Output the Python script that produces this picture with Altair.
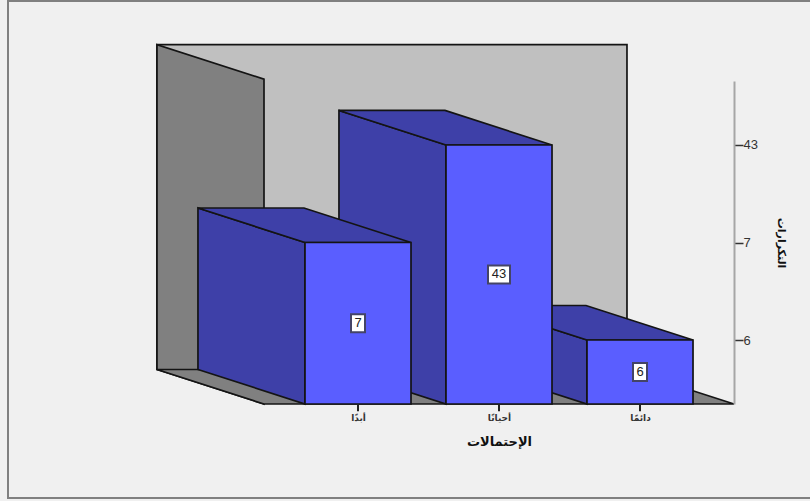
import altair as alt
import pandas as pd

# Survey answers and their frequencies
categories = ["أبدًا", "أحيانًا", "دائمًا"]
counts = [7, 43, 6]
axis_counts = sorted(counts)  # the count axis spaces its values evenly, by rank
x_title = "الإحتمالات"
y_title = "التكرارات"

# Oblique projection, in units of one category step and one count rank
X_DOMAIN = [1 / 3, 11 / 3]
Y_DOMAIN = [0.344, 3.656]
HALF_BAR = 0.376
DEPTH_X = 0.759
DEPTH_Y = 0.354
WALL_TOP = 3.656 + 0.373
TICK_DROP = 0.075

FRONT = "#5a5eff"
SHADE = "#3e40a8"
WALL = "#808080"
BACK = "#c0c0c0"
EDGE = "#141414"
EDGE_WIDTH = 1.7
PAGE = "#f0f0f0"
FONT = "Liberation Sans"
ARABIC = "DejaVu Sans"

x_scale = alt.Scale(domain=X_DOMAIN, nice=False, zero=False)
y_scale = alt.Scale(domain=Y_DOMAIN, nice=False, zero=False)

x_axis = alt.Axis(
    values=[i + 1 for i in range(len(categories))],
    labelExpr="[" + ",".join(f"'{c}'" for c in categories) + "][datum.value - 1]",
    title=x_title,
    domain=False,
    grid=False,
    zindex=1,
    ticks=False,
    labelFont=ARABIC,
    labelFontSize=9,
    labelFontWeight="bold",
    labelColor="#333333",
    labelPadding=9,
    titleFont=ARABIC,
    titleFontSize=13,
    titleFontWeight="bold",
    titleColor="#111111",
    titleY=31,
)
y_axis = alt.Axis(
    orient="right",
    values=[i + 1 for i in range(len(axis_counts))],
    labelExpr="[" + ",".join(f"'{c}'" for c in axis_counts) + "][datum.value - 1]",
    title=y_title,
    domain=True,
    domainColor="#a6a6a6",
    domainWidth=2,
    grid=False,
    zindex=1,
    tickColor="#333333",
    tickWidth=1.5,
    tickSize=9,
    labelFont=FONT,
    labelFontSize=13,
    labelColor="#333333",
    labelPadding=0,
    titleFont=ARABIC,
    titleFontSize=11,
    titleFontWeight="bold",
    titleColor="#111111",
    titleAngle=90,
    titleX=43,
    titleBaseline="alphabetic",
)


def X(field="x"):
    return alt.X(f"{field}:Q", scale=x_scale, axis=x_axis)


def Y(field="y"):
    return alt.Y(f"{field}:Q", scale=y_scale, axis=y_axis)


def vertical_face(x0, x1, low0, high0, low1, high1, color):
    df = pd.DataFrame({"x": [x0, x1], "y": [low0, low1], "y2": [high0, high1]})
    return (
        alt.Chart(df)
        .mark_area(orient="vertical", fill=color, stroke=EDGE, strokeWidth=EDGE_WIDTH, interpolate="linear")
        .encode(x=X(), y=Y(), y2="y2:Q")
    )


def horizontal_face(y0, y1, left0, right0, left1, right1, color):
    df = pd.DataFrame({"y": [y0, y1], "x": [left0, left1], "x2": [right0, right1]})
    return (
        alt.Chart(df)
        .mark_area(orient="horizontal", fill=color, stroke=EDGE, strokeWidth=EDGE_WIDTH, interpolate="linear")
        .encode(y=Y(), x=X(), x2="x2:Q")
    )


def box(x0, x1, y0, y1, color):
    df = pd.DataFrame({"x": [x0], "x2": [x1], "y": [y0], "y2": [y1]})
    return (
        alt.Chart(df)
        .mark_rect(fill=color, stroke=EDGE, strokeWidth=EDGE_WIDTH)
        .encode(x=X(), x2="x2:Q", y=Y(), y2="y2:Q")
    )


base = Y_DOMAIN[0]
rear = base + DEPTH_Y

# The outer frame runs past the plot area and off the right edge
frame = (
    alt.Chart(pd.DataFrame({"x": [1.0], "y": [1.0]}))
    .mark_rect(fillOpacity=0, stroke="#808080", strokeWidth=2)
    .encode(
        x=alt.value(-256),
        x2=alt.value(570),
        y=alt.value(-80),
        y2=alt.value(417),
    )
)

wall_left = X_DOMAIN[0] - DEPTH_X
wall_right = X_DOMAIN[1] - DEPTH_X

layers = [
    frame,
    box(wall_left, wall_right, rear, WALL_TOP, BACK),
    vertical_face(wall_left, X_DOMAIN[0], rear, WALL_TOP, base, WALL_TOP - DEPTH_Y, WALL),
    horizontal_face(base, rear, X_DOMAIN[0], X_DOMAIN[1], wall_left, wall_right, WALL),
]

# Bars are painted from the far right towards the left so nearer faces cover farther ones
for i in reversed(range(len(categories))):
    rank = axis_counts.index(counts[i]) + 1
    centre = i + 1
    left = centre - HALF_BAR
    right = centre + HALF_BAR
    layers.append(vertical_face(left - DEPTH_X, left, rear, rank + DEPTH_Y, base, rank, SHADE))
    layers.append(horizontal_face(rank, rank + DEPTH_Y, left, right, left - DEPTH_X, right - DEPTH_X, SHADE))
    layers.append(box(left, right, base, rank, FRONT))

# Category ticks hanging below the floor edge
ticks = pd.DataFrame(
    {
        "x": [i + 1 for i in range(len(categories))],
        "y": [base] * len(categories),
        "y2": [base - TICK_DROP] * len(categories),
    }
)
layers.append(
    alt.Chart(ticks)
    .mark_rule(color="#222222", strokeWidth=2)
    .encode(x=X(), y=Y(), y2="y2:Q")
)

# Value boxes centred on each front face
labels = pd.DataFrame(
    {
        "x": [i + 1 for i in range(len(categories))],
        "y": [(base + axis_counts.index(c) + 1) / 2 for c in counts],
        "count": [str(c) for c in counts],
    }
)
for digits, box_width in ((1, 14), (2, 22)):
    subset = labels[labels["count"].str.len() == digits]
    layers.append(
        alt.Chart(subset)
        .mark_rect(width=box_width, height=18, fill="white", stroke="#444466", strokeWidth=2)
        .encode(x=X(), y=Y())
    )
layers.append(
    alt.Chart(labels)
    .mark_text(font=FONT, fontSize=13, color="#222222", baseline="middle", align="center")
    .encode(x=X(), y=Y(), text="count:N")
)

chart = (
    alt.layer(*layers)
    .properties(
        width=470,
        height=323,
        padding={"left": 264, "top": 81, "right": 76, "bottom": 97},
        autosize=alt.AutoSizeParams(type="none"),
        background=PAGE,
    )
    .configure_view(stroke=None)
)

chart.save("out.html", embed_options={"renderer": "svg", "actions": False})
